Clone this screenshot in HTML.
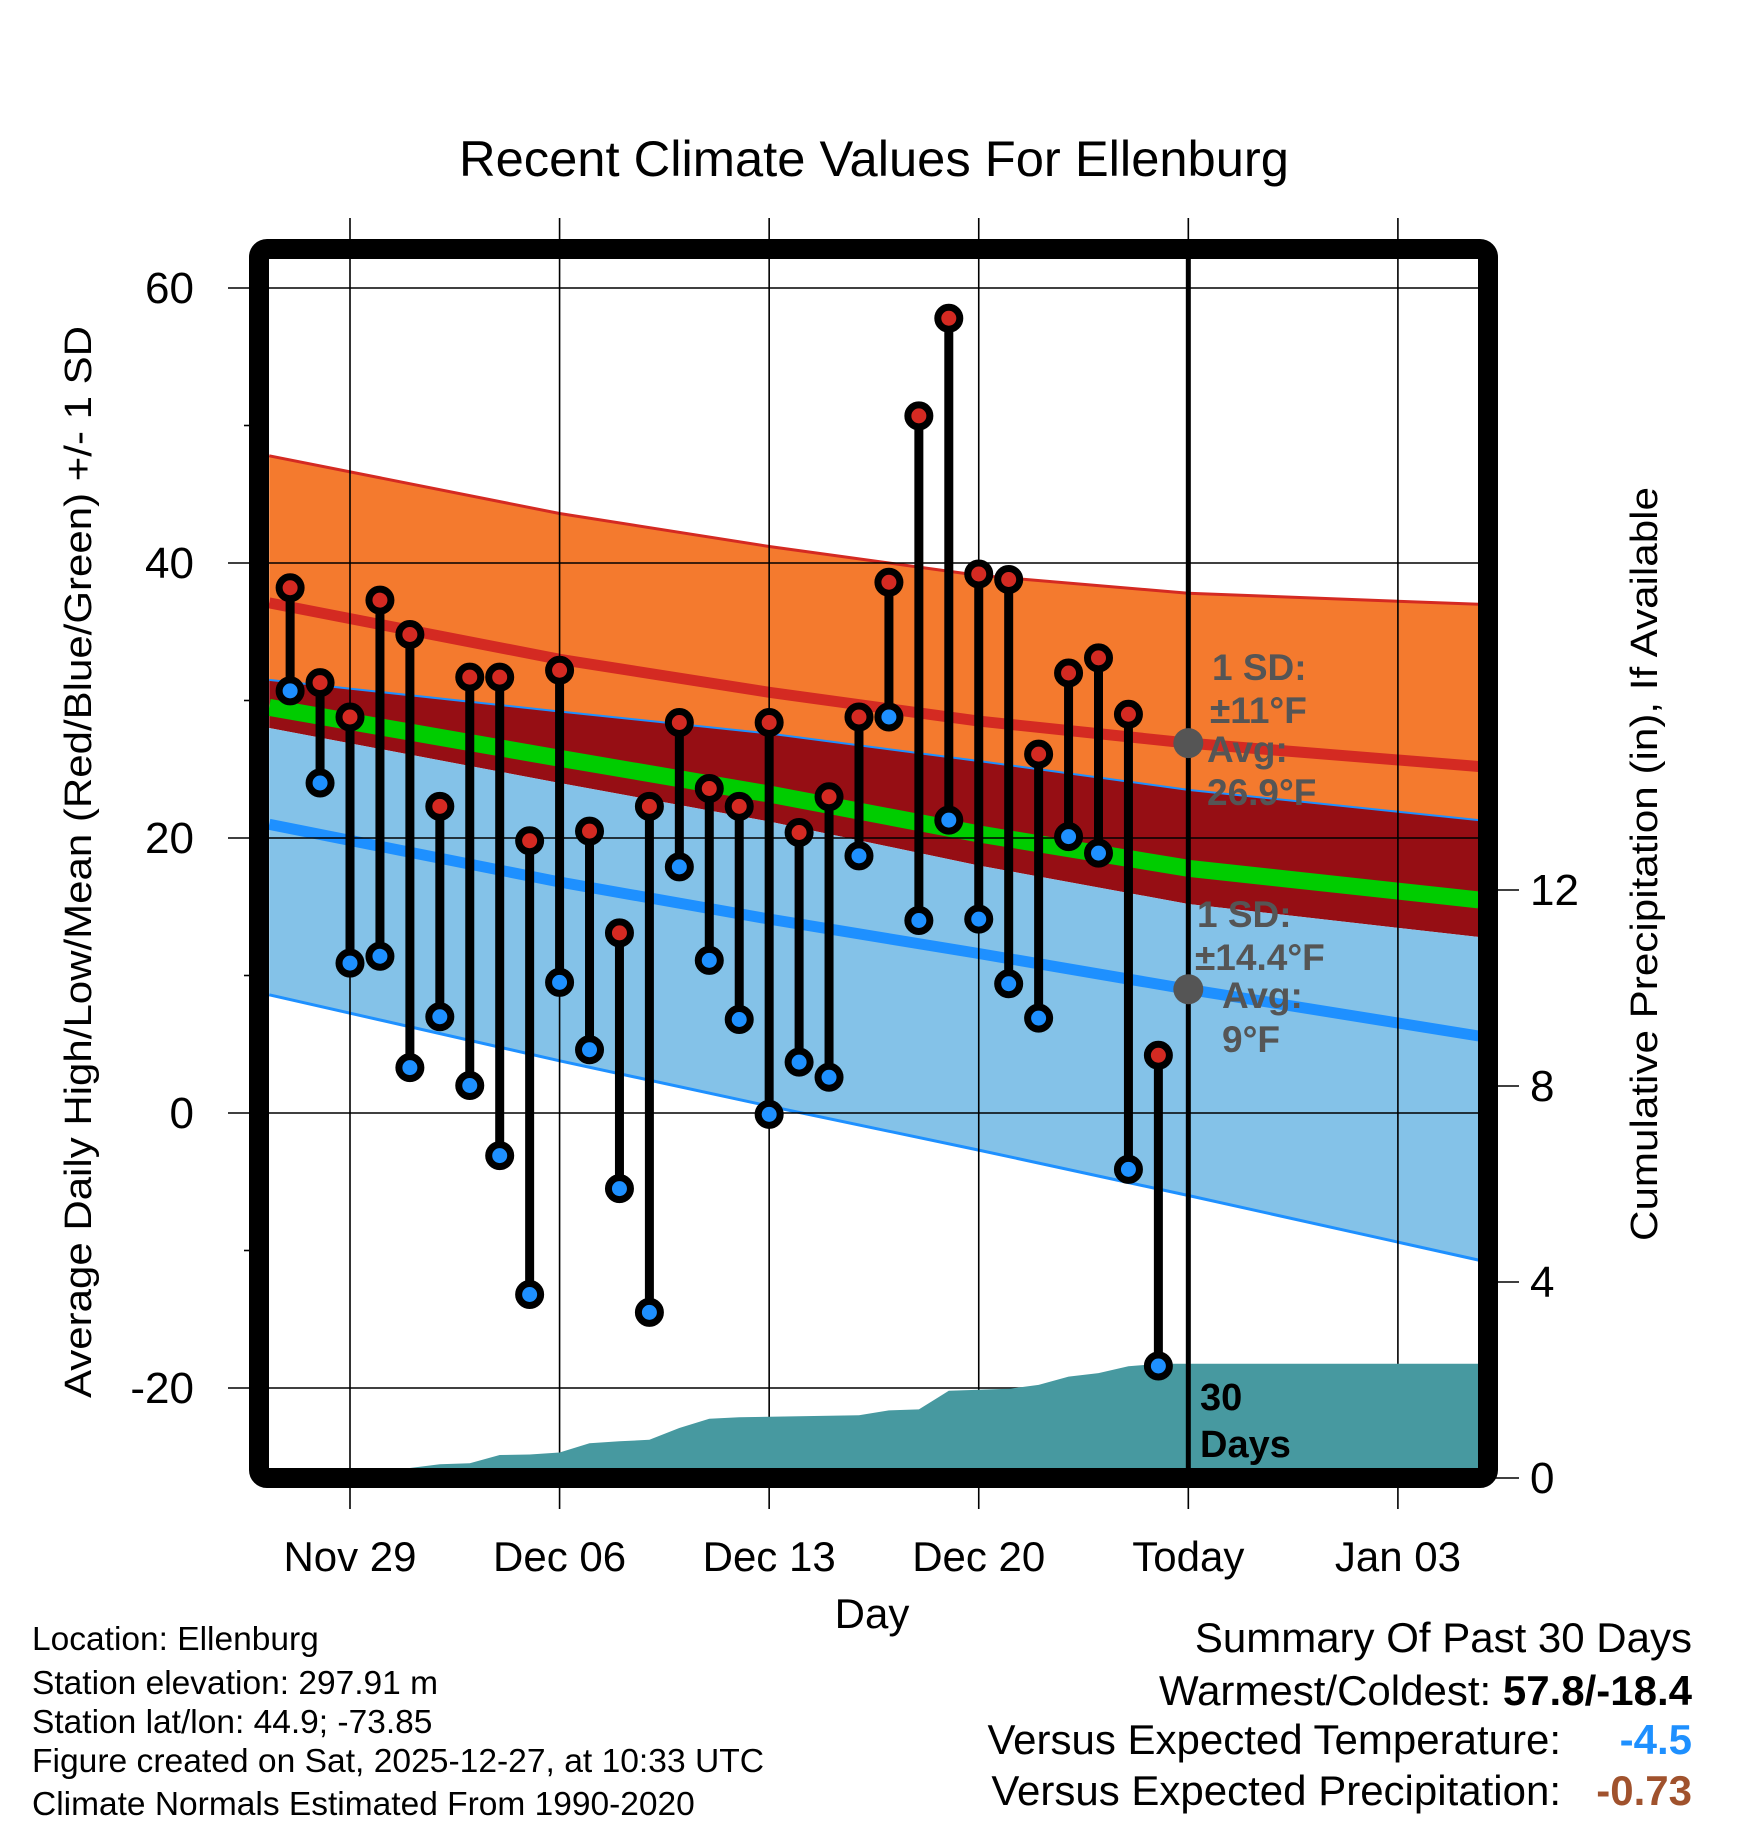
<!DOCTYPE html>
<html><head><meta charset="utf-8"><style>
html,body{margin:0;padding:0;background:#fff}
svg{display:block;font-family:"Liberation Sans",Arial,sans-serif}
</style></head><body>
<svg id="chart" width="1748" height="1828" viewBox="0 0 1748 1828" xmlns="http://www.w3.org/2000/svg">
<rect width="1748" height="1828" fill="#fff"/>
<g id="bands"></g>
<g id="grid"></g>
<g id="precip"></g>
<g id="marks"></g>
<g id="frame"></g>
<g id="labels"></g>
</svg>
<script>
// ---- data ----
const highs=[38.2,31.3,28.8,37.3,34.8,22.3,31.7,31.7,19.8,32.2,20.5,13.1,22.3,28.4,23.6,22.3,28.4,20.4,23.0,28.8,38.6,50.7,57.8,39.2,38.8,26.1,32.0,33.1,29.0,4.2];
const lows=[30.7,24.0,10.9,11.4,3.3,7.0,2.0,-3.1,-13.2,9.5,4.6,-5.5,-14.5,17.9,11.1,6.8,-0.1,3.7,2.6,18.7,28.8,14.0,21.3,14.1,9.4,6.9,20.1,18.9,-4.1,-18.4];
const precip=[0,0,0,0,0.05,0.28,0.3,0.47,0.48,0.52,0.71,0.75,0.78,1.02,1.21,1.24,1.25,1.26,1.27,1.28,1.38,1.4,1.78,1.8,1.82,1.9,2.07,2.14,2.28,2.33];
const normDays=[-0.7,9,16,23,30,39.7];
const normHighUpper=[47.8,43.6,41.2,39.1,37.8,37.0];
const normHigh=[37.1,33.0,30.6,28.5,26.9,25.2];
const normBandTop=[31.5,29.2,27.6,25.6,23.5,21.3];
const normGreen=[29.5,25.8,23.2,20.3,17.8,15.5];
const normBandBottom=[28.0,24.0,21.2,18.0,15.2,12.8];
const normLow=[21.0,16.8,14.1,11.6,9.0,5.6];
const normLowLower=[8.6,3.8,0.5,-2.7,-6.0,-10.7];
const yTicks=[60,40,20,0,-20];
const yMinor=[50,30,10,-10];
const pTicks=[0,4,8,12];
const xTickDays=[2,9,16,23,30,37];
const xTickLabels=["Nov 29","Dec 06","Dec 13","Dec 20","Today","Jan 03"];
const todayDay=30;
const avgHigh=26.9, avgLow=9.0;

// ---- axes ----
const X0=350, PXD=29.94, D0=2;
const xs=d=>X0+(d-D0)*PXD;
const ys=v=>288+(60-v)*13.75;
const yp=p=>1478-p*49;
const L=269,R=1478,T=260,B=1468;
const NS="http://www.w3.org/2000/svg";
function mk(tag,attrs,parent,txt){const e=document.createElementNS(NS,tag);for(const k in attrs)e.setAttribute(k,attrs[k]);if(txt!==undefined)e.textContent=txt;document.getElementById(parent).appendChild(e);return e;}

function curve(arr){return normDays.map((d,i)=>[xs(d),ys(arr[i])]);}
function smoothPts(arr){return curve(arr).map(p=>p[0].toFixed(1)+","+p[1].toFixed(1));}
function band(top,bot,fill,name){
 const p=smoothPts(top).concat(smoothPts(bot).reverse());
 const e=mk("polygon",{points:p.join(" "),fill:fill},"bands");
 
 }
function line(arr,stroke,w,name){
 const e=mk("polyline",{points:smoothPts(arr).join(" "),fill:"none",stroke:stroke,"stroke-width":w},"bands");
 
 }
band(normHighUpper,normBandTop,"#f47a2e","high-sd-band");
band(normBandTop,normBandBottom,"#960e14","overlap-band");
band(normBandBottom,normLowLower,"#84c2e8","low-sd-band");
line(normHighUpper,"#d42a22",3,"high-upper-sd-line");
line(normBandTop,"#1e90ff",2,"low-upper-sd-line");
line(normLowLower,"#1e90ff",3,"low-lower-sd-line");
line(normGreen,"#00cc00",17,"mean-normal-line");
line(normHigh,"#d42a22",11,"normal-high-line");
line(normLow,"#1e90ff",11,"normal-low-line");

yTicks.forEach(v=>{const e=mk("line",{x1:228,x2:R,y1:ys(v),y2:ys(v),stroke:"#000","stroke-width":1.6},"grid");
 
 
 const t=mk("text",{x:194,y:ys(v)+15,"font-size":44,"text-anchor":"end"},"labels",String(v));
 
 });
yMinor.forEach(v=>{const e=mk("line",{x1:244,x2:260,y1:ys(v),y2:ys(v),stroke:"#000","stroke-width":1.6},"grid");
 
 });
xTickDays.forEach((d,i)=>{const e=mk("line",{x1:xs(d),x2:xs(d),y1:218,y2:1509,stroke:"#000","stroke-width":1.6},"grid");
 
 
 const t=mk("text",{x:xs(d),y:1571,"font-size":42,"text-anchor":"middle"},"labels",xTickLabels[i]);
 
 });
pTicks.forEach(p=>{const e=mk("line",{x1:1495,x2:1519,y1:yp(p),y2:yp(p),stroke:"#000","stroke-width":1.6},"grid");
 
 
 const t=mk("text",{x:1530,y:yp(p)+15,"font-size":44},"labels",String(p));
 
 });

{let pts=[[L,B],[L,yp(0)]];precip.forEach((p,i)=>pts.push([xs(i),yp(p)]));
 pts.push([R,yp(precip[precip.length-1])]);pts.push([R,B]);
 const e=mk("polygon",{points:pts.map(p=>p[0].toFixed(1)+","+Math.min(p[1],B).toFixed(1)).join(" "),fill:"#4799a0"},"precip");
 
 }

{const e=mk("line",{x1:xs(todayDay),x2:xs(todayDay),y1:250,y2:B,stroke:"#000","stroke-width":5},"marks");
 
 }

highs.forEach((h,i)=>{const x=xs(i);
 const s=mk("line",{x1:x,x2:x,y1:ys(h),y2:ys(lows[i]),stroke:"#000","stroke-width":9},"marks");
 
 });
highs.forEach((h,i)=>{const x=xs(i);
 const a=mk("circle",{cx:x,cy:ys(h),r:11,fill:"#d42a22",stroke:"#000","stroke-width":7},"marks");
 
 
 const b=mk("circle",{cx:x,cy:ys(lows[i]),r:11,fill:"#1e90ff",stroke:"#000","stroke-width":7},"marks");
 
 });

[avgHigh,avgLow].forEach(v=>{const e=mk("circle",{cx:xs(todayDay),cy:ys(v),r:15,fill:"#555"},"marks");
 
 });

{const e=mk("rect",{x:259,y:249,width:1229,height:1229,rx:8,fill:"none",stroke:"#000","stroke-width":20},"frame");
 
 }
</script>
<svg style="position:absolute;left:0;top:0" width="1748" height="1828">
<g font-family="Liberation Sans, Arial, sans-serif">
<text x="874" y="176" font-size="50" text-anchor="middle" textLength="830" lengthAdjust="spacingAndGlyphs">Recent Climate Values For Ellenburg</text>
<text transform="translate(91,862) rotate(-90)" font-size="38" text-anchor="middle" textLength="1072" lengthAdjust="spacingAndGlyphs">Average Daily High/Low/Mean (Red/Blue/Green) +/- 1 SD</text>
<text transform="translate(1657,864) rotate(-90)" font-size="38" text-anchor="middle" textLength="754" lengthAdjust="spacingAndGlyphs">Cumulative Precipitation (in), If Available</text>
<text x="872" y="1628" font-size="42" text-anchor="middle">Day</text>
<g font-weight="bold" fill="#555" font-size="37">
<text x="1212" y="680">1 SD:</text>
<text x="1210" y="723">±11°F</text>
<text x="1207" y="762">Avg:</text>
<text x="1207" y="805">26.9°F</text>
<text x="1197" y="927">1 SD:</text>
<text x="1195" y="970">±14.4°F</text>
<text x="1222" y="1008">Avg:</text>
<text x="1222" y="1052">9°F</text>
</g>
<g font-weight="bold" fill="#000" font-size="38">
<text x="1200" y="1410">30</text>
<text x="1200" y="1457">Days</text>
</g>
<g font-size="33.5">
<text x="32" y="1650">Location: Ellenburg</text>
<text x="32" y="1694">Station elevation: 297.91 m</text>
<text x="32" y="1733">Station lat/lon: 44.9; -73.85</text>
<text x="32" y="1772" textLength="732" lengthAdjust="spacingAndGlyphs">Figure created on Sat, 2025-12-27, at 10:33 UTC</text>
<text x="32" y="1815">Climate Normals Estimated From 1990-2020</text>
</g>
<g font-size="42" text-anchor="end">
<text x="1692" y="1652">Summary Of Past 30 Days</text>
<text x="1692" y="1705">Warmest/Coldest: <tspan font-weight="bold">57.8/-18.4</tspan></text>
<text x="1561" y="1754">Versus Expected Temperature:</text>
<text x="1692" y="1754" font-weight="bold" fill="#1e90ff">-4.5</text>
<text x="1561" y="1805">Versus Expected Precipitation:</text>
<text x="1692" y="1805" font-weight="bold" fill="#a0522d">-0.73</text>
</g>
</g>
</svg>
</body></html>
